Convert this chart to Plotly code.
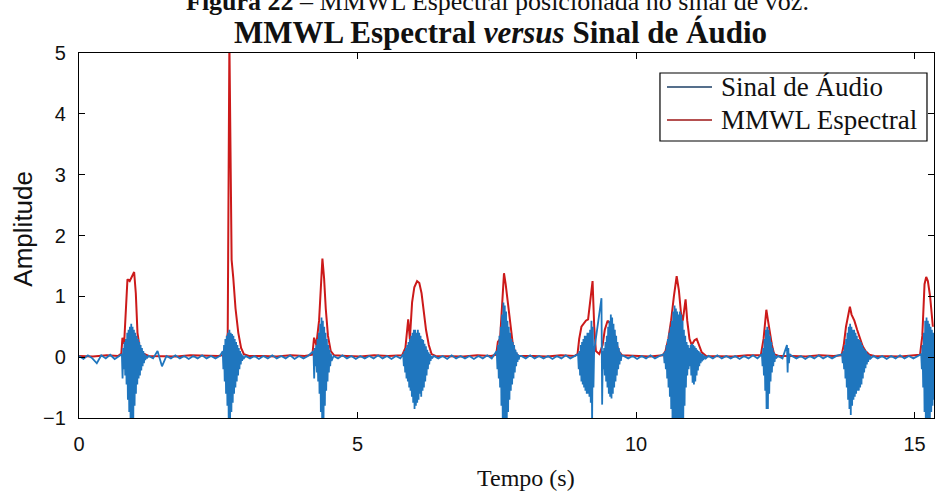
import numpy as np
import plotly.graph_objects as go

# ---------------------------------------------------------------
# Audio signal: voiced bursts sampled every 12 ms, quiet stretches
# between them sampled every 80 ms (start time, step, amplitudes).
# ---------------------------------------------------------------
BURST_STEP = 0.012
QUIET_STEP = 0.08

quiet_0 = [0.02, -0.03, 0.03, -0.02, -0.10, 0.03, -0.02, 0.04, -0.03, 0.02]
burst_1 = [0.05, -0.35, 0.15, -0.2, 0.25, -0.3, 0.3, -0.45, 0.4, -0.7, 0.45, -0.9,
           0.5, -1.1, 0.55, -1.2, 0.5, -1.1, 0.45, -0.8, 0.4, -0.6, 0.35, -0.45,
           0.3, -0.35, 0.25, -0.3, 0.2, -0.22, 0.15, -0.15, 0.1, -0.1, 0.06, -0.05,
           0.03, -0.02]
quiet_1 = [0.02, -0.02, 0.10, -0.15, 0.02, -0.02, 0.03, -0.02, 0.02, -0.03, 0.02,
           -0.02, 0.03, -0.02, 0.02, -0.02, 0.02]
burst_2 = [0.1, -0.2, 0.2, -0.4, 0.3, -0.6, 0.35, -0.8, 0.4, -1.1, 0.45, -1.1,
           0.4, -0.9, 0.38, -0.75, 0.35, -0.6, 0.3, -0.5, 0.25, -0.4, 0.2, -0.3,
           0.15, -0.2, 0.1, -0.12, 0.06, -0.06, 0.03, -0.03]
quiet_2 = [0.02, -0.02, 0.02, -0.03, 0.02, -0.02, 0.03, -0.02, 0.02, -0.02, 0.03,
           -0.03, 0.02, -0.02, 0.02]
burst_3 = [0.1, -0.35, 0.15, -0.15, 0.2, -0.25, 0.3, -0.4, 0.4, -0.6, 0.55, -0.9,
           0.65, -1.1, 0.6, -1.1, 0.5, -0.8, 0.4, -0.55, 0.3, -0.4, 0.2, -0.25,
           0.12, -0.15, 0.06, -0.06]
quiet_3 = [0.02, -0.02, 0.03, -0.02, 0.02, -0.03, 0.02, -0.02, 0.02, -0.02, 0.03,
           -0.02, 0.02, -0.03, 0.02, -0.02]
burst_4 = [0.05, -0.15, 0.1, -0.25, 0.15, -0.35, 0.2, -0.4, 0.25, -0.5, 0.3, -0.55,
           0.35, -0.65, 0.4, -0.75, 0.45, -0.85, 0.45, -0.8, 0.4, -0.75, 0.45, -0.7,
           0.4, -0.6, 0.35, -0.65, 0.3, -0.55, 0.28, -0.5, 0.22, -0.4, 0.18, -0.3,
           0.12, -0.2, 0.08, -0.12, 0.05, -0.06, 0.02, -0.02]
quiet_4 = [0.02, -0.02, 0.02, -0.03, 0.03, -0.02, 0.02, -0.02, 0.02, -0.03, 0.02,
           -0.02, 0.03, -0.02]
burst_5 = [0.1, -0.2, 0.2, -0.35, 0.35, -0.5, 0.5, -0.8, 0.7, -1.1, 0.9, -1.2,
           0.85, -1.2, 0.75, -1.1, 0.6, -0.9, 0.5, -0.7, 0.4, -0.55, 0.3, -0.45,
           0.25, -0.35, 0.2, -0.25, 0.12, -0.15, 0.08, -0.08, 0.04, -0.04, 0.02]
quiet_5 = [0.02, -0.02, 0.03, -0.02, 0.02, -0.02, 0.02, -0.03, 0.02, -0.02, 0.03,
           -0.02]
burst_6a = [0.05, -0.2, 0.1, -0.3, 0.2, -0.4, 0.25, -0.45, 0.3, -0.5, 0.35, -0.55,
            0.35, -0.6, 0.4, -0.6, 0.4, -0.65, 0.45, -0.75, 0.6, -1.1, 0.5, -0.5, 0.1]
burst_6b = [0.97, -0.78, 0.1, -0.2, 0.15, -0.3, 0.25, -0.4, 0.35, -0.5, 0.5, -0.6,
            0.6, -0.65, 0.7, -0.68, 0.65, -0.6, 0.55, -0.5, 0.45, -0.4, 0.35, -0.3,
            0.25, -0.2, 0.15, -0.12, 0.08, -0.06, 0.03]
quiet_6 = [0.02, -0.02, 0.02, -0.03, 0.02, -0.02, 0.03, -0.02, 0.02]
burst_7 = [0.05, -0.1, 0.1, -0.2, 0.2, -0.35, 0.3, -0.5, 0.4, -0.65, 0.5, -0.85,
           0.6, -1.1, 0.75, -1.2, 0.85, -1.2, 0.8, -1.2, 0.75, -1.15, 0.7, -1.2,
           0.75, -1.2, 0.7, -1.2, 0.6, -1.1,
           0.45, -0.8, 0.35, -0.5, 0.25, -0.3, 0.2, -0.2, 0.15, -0.15,
           0.2, -0.3, 0.22, -0.42, 0.2, -0.45, 0.18, -0.4, 0.15, -0.3, 0.12, -0.22,
           0.1, -0.15,
           0.08, -0.1, 0.06, -0.07, 0.05, -0.05, 0.03, -0.03, 0.02, -0.02]
quiet_7 = [0.02, -0.02, 0.03, -0.02, 0.02, -0.02, 0.02, -0.03, 0.02, -0.02, 0.03,
           -0.02]
burst_8 = [0.05, -0.15, 0.15, -0.3, 0.3, -0.55, 0.45, -0.85, 0.5, -0.85, 0.45, -0.6,
           0.35, -0.4, 0.25, -0.25, 0.15, -0.15, 0.08, -0.08, 0.03, -0.02]
quiet_8a = [0.02, -0.02]
click_8 = [0.2, -0.25, 0.15, -0.1, 0.05]
quiet_8b = [0.02, -0.02, 0.02, -0.03, 0.02, -0.02, 0.03, -0.02, 0.02, -0.02, 0.02]
burst_9 = [0.05, -0.1, 0.1, -0.2, 0.2, -0.35, 0.3, -0.5, 0.4, -0.7, 0.5, -0.85,
           0.55, -0.95, 0.5, -0.8, 0.45, -0.7, 0.45, -0.65, 0.4, -0.6, 0.35, -0.55,
           0.3, -0.55, 0.28, -0.5, 0.25, -0.45, 0.2, -0.35, 0.15, -0.25, 0.12, -0.18,
           0.1, -0.12, 0.06, -0.08, 0.04, -0.04, 0.02, -0.02]
quiet_9 = [0.02, -0.02, 0.02, -0.03, 0.02, -0.02, 0.03, -0.02, 0.02, -0.02, 0.02]
burst_10 = [0.05, -0.2, 0.2, -0.5, 0.4, -0.9, 0.6, -1.2, 0.65, -1.2, 0.6, -1.1,
            0.55, -1.0, 0.5, -0.9, 0.45, -0.8, 0.4, -0.7]

audio_segments = [
    (0.00, QUIET_STEP, quiet_0),
    (0.77, BURST_STEP, burst_1),
    (1.25, QUIET_STEP, quiet_1),
    (2.58, BURST_STEP, burst_2),
    (2.99, QUIET_STEP, quiet_2),
    (4.21, BURST_STEP, burst_3),
    (4.57, QUIET_STEP, quiet_3),
    (5.82, BURST_STEP, burst_4),
    (6.37, QUIET_STEP, quiet_4),
    (7.50, BURST_STEP, burst_5),
    (7.94, QUIET_STEP, quiet_5),
    (8.96, BURST_STEP, burst_6a),
    (9.38, BURST_STEP, burst_6b),
    (9.78, QUIET_STEP, quiet_6),
    (10.50, BURST_STEP, burst_7),
    (11.30, QUIET_STEP, quiet_7),
    (12.26, BURST_STEP, burst_8),
    (12.55, QUIET_STEP, quiet_8a),
    (12.71, BURST_STEP, click_8),
    (12.80, QUIET_STEP, quiet_8b),
    (13.70, BURST_STEP, burst_9),
    (14.26, QUIET_STEP, quiet_9),
    (15.12, BURST_STEP, burst_10),
]

# ---------------------------------------------------------------
# Spectral MMWL curve
# ---------------------------------------------------------------
mmwl_t = [0.00, 0.25, 0.50, 0.70, 0.76, 0.78, 0.81, 0.84, 0.87, 0.91, 0.95, 0.99,
          1.02, 1.05, 1.09, 1.15, 1.25, 1.50, 1.75, 2.00, 2.25, 2.50,
          2.62, 2.67, 2.70, 2.72, 2.74, 2.77, 2.81, 2.86, 2.91, 2.96, 3.05,
          3.30, 3.55, 3.80, 4.05,
          4.19, 4.22, 4.26, 4.31, 4.37, 4.40, 4.43, 4.47, 4.52, 4.58,
          4.80, 5.05, 5.30, 5.55, 5.80,
          5.86, 5.91, 5.94, 5.98, 6.02, 6.07, 6.11, 6.15, 6.19, 6.23, 6.28, 6.33,
          6.40, 6.65, 6.90, 7.15, 7.40,
          7.49, 7.52, 7.56, 7.60, 7.63, 7.66, 7.70, 7.74, 7.79, 7.84,
          7.90, 8.15, 8.40, 8.65, 8.90,
          8.95, 8.98, 9.02, 9.06, 9.10, 9.14, 9.18, 9.22, 9.25, 9.28, 9.34,
          9.40, 9.44, 9.49, 9.54, 9.59, 9.64, 9.69, 9.75,
          10.00, 10.25, 10.48,
          10.53, 10.58, 10.63, 10.68, 10.73, 10.77, 10.81, 10.84, 10.89, 10.92,
          10.96, 11.00, 11.05, 11.09, 11.13, 11.18, 11.26,
          11.50, 11.75, 12.00, 12.24,
          12.29, 12.34, 12.37, 12.40, 12.44, 12.48, 12.56,
          12.80, 13.05, 13.30, 13.55, 13.69,
          13.73, 13.77, 13.81, 13.84, 13.87, 13.92, 13.97, 14.02, 14.07, 14.12,
          14.19, 14.28, 14.50, 14.75, 15.00, 15.10,
          15.14, 15.18, 15.21, 15.24, 15.28, 15.33]
mmwl_v = [0.02, 0.01, 0.03, 0.02, 0.06, 0.32, 0.22, 0.85, 1.28, 1.25, 1.33, 1.40,
          1.05, 0.40, 0.15, 0.06, 0.02, 0.02, 0.01, 0.03, 0.02, 0.02,
          0.04, 0.40, 5.20, 2.60, 1.60, 1.30, 0.80, 0.40, 0.15, 0.05, 0.02,
          0.02, 0.01, 0.03, 0.02,
          0.04, 0.32, 0.20, 0.60, 1.62, 1.30, 0.80, 0.35, 0.10, 0.03,
          0.02, 0.01, 0.03, 0.02, 0.03,
          0.15, 0.62, 0.30, 0.90, 1.15, 1.25, 1.22, 1.05, 0.70, 0.45, 0.20, 0.05,
          0.02, 0.02, 0.01, 0.03, 0.02,
          0.04, 0.25, 0.30, 1.00, 1.38, 1.20, 0.90, 0.50, 0.20, 0.06,
          0.02, 0.02, 0.01, 0.03, 0.02,
          0.05, 0.30, 0.50, 0.55, 0.60, 0.62, 0.90, 1.25, 0.50, 0.10, 0.05,
          0.20, 0.45, 0.60, 0.55, 0.45, 0.25, 0.10, 0.03,
          0.02, 0.01, 0.03,
          0.10, 0.30, 0.60, 1.00, 1.33, 1.10, 0.70, 0.60, 0.95, 0.60,
          0.30, 0.20, 0.28, 0.30, 0.20, 0.08, 0.02,
          0.02, 0.01, 0.03, 0.03,
          0.30, 0.78, 0.60, 0.40, 0.20, 0.05, 0.02,
          0.02, 0.01, 0.03, 0.02, 0.03,
          0.20, 0.50, 0.70, 0.83, 0.70, 0.60, 0.45, 0.30, 0.18, 0.10,
          0.04, 0.02, 0.02, 0.01, 0.03, 0.04,
          0.35, 1.20, 1.32, 1.25, 1.00, 0.50]

x_ticks = [0, 5, 10, 15]
y_ticks = [-1, 0, 1, 2, 3, 4, 5]
legend_labels = ["Sinal de Áudio", "MMWL Espectral"]

# assemble the audio samples from the segments
audio_t, audio_v = [], []
for start, step, vals in audio_segments:
    audio_t.extend(start + step * np.arange(len(vals)))
    audio_v.extend(vals)

BLUE = "#1f76be"
RED = "#cc1a1a"
INK = "#111111"
SERIF = "Liberation Serif, Times New Roman, serif"
SANS = "Liberation Sans, Arial, sans-serif"

fig = go.Figure()
fig.add_trace(go.Scatter(x=mmwl_t, y=mmwl_v, mode="lines", name=legend_labels[1],
                         line=dict(color=RED, width=2.0), showlegend=False))
fig.add_trace(go.Scatter(x=audio_t, y=audio_v, mode="lines", name=legend_labels[0],
                         line=dict(color=BLUE, width=1.8), showlegend=False))

axis_common = dict(showline=True, linecolor="black", linewidth=1.2, mirror="ticks",
                   ticks="inside", ticklen=6, tickcolor="black", showgrid=False,
                   zeroline=False, tickfont=dict(family=SANS, size=20, color=INK))
fig.update_xaxes(range=[0, 15.35], tickvals=x_ticks, ticklabelstandoff=8, **axis_common)
fig.update_yaxes(range=[-1, 5], tickvals=y_ticks, ticklabelstandoff=8, **axis_common)

fig.update_layout(
    width=935, height=493,
    margin=dict(l=79, r=1, t=53, b=75),
    paper_bgcolor="white", plot_bgcolor="white",
    showlegend=False,
)

# legend box: frame, line samples and labels (paper coordinates)
LEG_X0, LEG_X1, LEG_Y0, LEG_Y1 = 0.6795, 0.9918, 0.7589, 0.9452
fig.add_shape(type="rect", xref="paper", yref="paper", x0=LEG_X0, x1=LEG_X1,
              y0=LEG_Y0, y1=LEG_Y1, line=dict(color="black", width=1.2),
              fillcolor="white", layer="above")
for label, color, row_y in [(legend_labels[0], "#1d3f66", 0.9068),
                            (legend_labels[1], "#9c1616", 0.8164)]:
    fig.add_shape(type="line", xref="paper", yref="paper", x0=0.6877, x1=0.7404,
                  y0=row_y, y1=row_y, line=dict(color=color, width=1.6), layer="above")
    fig.add_annotation(xref="paper", yref="paper", x=0.7485, y=row_y, xanchor="left",
                       yanchor="middle", showarrow=False, text=label,
                       font=dict(family=SERIF, size=27, color=INK))

fig.add_annotation(xref="paper", yref="paper", x=0.49, y=1.095, xanchor="center",
                   yanchor="bottom", showarrow=False,
                   text="<b>Figura 22</b> – MMWL Espectral posicionada no sinal de voz.",
                   font=dict(family=SERIF, size=26, color=INK))
fig.add_annotation(xref="paper", yref="paper", x=0.4926, y=1.0548, xanchor="center",
                   yanchor="middle", showarrow=False,
                   text="<b>MMWL Espectral <i>versus</i> Sinal de Áudio</b>",
                   font=dict(family=SERIF, size=31, color=INK))
fig.add_annotation(xref="paper", yref="paper", x=-0.065, y=0.52, xanchor="center",
                   yanchor="middle", showarrow=False, textangle=-90,
                   text="Amplitude", font=dict(family=SANS, size=26, color=INK))
fig.add_annotation(xref="paper", yref="paper", x=0.5228, y=-0.164, xanchor="center",
                   yanchor="middle", showarrow=False,
                   text="Tempo (s)", font=dict(family=SERIF, size=24, color=INK))

fig.write_html("out.html")
